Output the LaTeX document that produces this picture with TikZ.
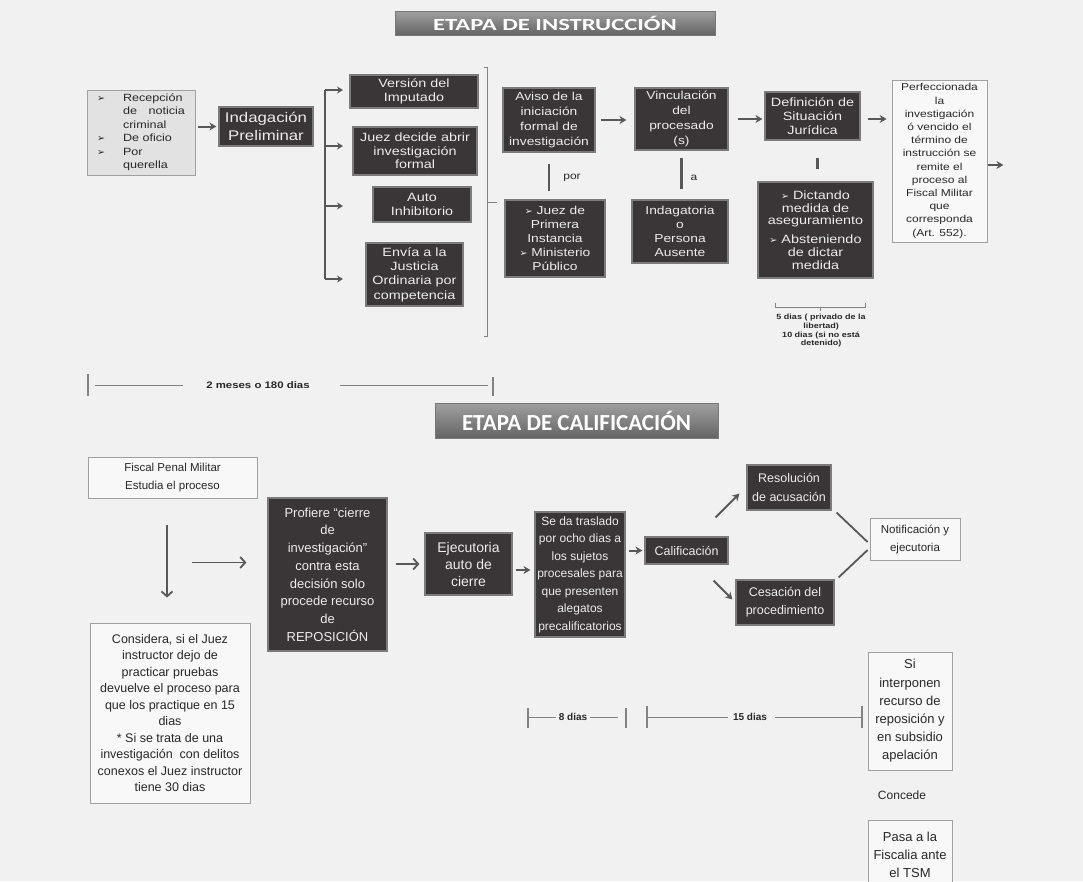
\documentclass[tikz,border=0pt]{standalone}
\usepackage{fontspec}
\setmainfont{Liberation Sans}
\newfontfamily\wf[FakeStretch=1.2]{Liberation Sans}
\newfontfamily\bnf[FakeStretch=1.45]{Carlito}
\newfontfamily\bnfb{Carlito}
\newfontfamily\sym{DejaVu Sans}
\usetikzlibrary{arrows.meta,calc}
\newcommand\fsz[2]{\fontsize{#1}{#2}\selectfont}
\newcommand\arw{{\sym\fontsize{9.5}{9.5}\selectfont ➢}}
\definecolor{bgc}{RGB}{241,241,241}
\definecolor{dkfill}{RGB}{58,53,55}
\definecolor{dkedge}{RGB}{125,122,123}
\definecolor{dktext}{RGB}{236,236,236}
\definecolor{ltfill}{RGB}{248,248,248}
\definecolor{ltedge}{RGB}{160,160,160}
\definecolor{rcfill}{RGB}{226,226,226}
\definecolor{conn}{RGB}{88,88,88}
\definecolor{tickc}{RGB}{130,130,130}
\definecolor{txt}{RGB}{40,40,40}
\begin{document}
\begin{tikzpicture}[x=1pt,y=-1pt,
  dark/.style={draw=dkedge, fill=dkfill, line width=1.2pt, text=dktext, align=center, inner xsep=2pt, inner ysep=0pt},
  light/.style={draw=ltedge, fill=ltfill, line width=0.8pt, text=txt, align=center, inner xsep=2pt, inner ysep=0pt},
  arr/.style={draw=conn, line width=2pt, -{Stealth[length=7pt,width=8pt]}},
  arrs/.style={draw=conn, line width=1.8pt, -{Stealth[length=6pt,width=7pt]}},
  arrb/.style={draw=conn, line width=1.8pt, -{Straight Barb[length=5pt,width=11pt]}},
  link/.style={draw=conn, line width=2.2pt},
  tline/.style={draw=tickc, line width=0.9pt},
  tick/.style={draw=tickc, line width=1.3pt},
  banner/.style={top color={rgb,255:red,160;green,160;blue,160}, bottom color={rgb,255:red,100;green,100;blue,100}, draw={rgb,255:red,120;green,120;blue,120}, line width=0.5pt, text=white, inner sep=0pt},
  lbl/.style={text=txt, inner sep=0pt}
]
\fill[bgc] (0,0) rectangle (1083,881);
\useasboundingbox (0,0) rectangle (1083,881);

% ---------- banners
\node[banner, minimum width=320pt, minimum height=24pt, font=\bnf\bfseries\fsz{17}{20}] (ban1) at (555,23) {ETAPA DE INSTRUCCIÓN};
\node[banner, minimum width=283pt, minimum height=35pt, font=\bnfb\bfseries\fsz{23}{26}] (ban2) at (576.5,420.5) {ETAPA DE CALIFICACIÓN};

% ---------- instruccion
\node[draw=ltedge, fill=rcfill, line width=0.8pt, text=txt, inner sep=0pt, minimum width=108pt, minimum height=85pt, font=\wf\fsz{10.5}{13.5}] (recep) at (141,132.5)
  {\begin{tabular}{@{}p{26pt}@{}p{62pt}@{}}
   \arw & Recepción\\
        & de\hfill noticia\\
        & criminal\\
   \arw & De oficio\\
   \arw & Por\\
        & querella
   \end{tabular}};
\node[dark, minimum width=94pt, minimum height=39pt, font=\wf\fsz{14}{18}] (indag) at (266,126.5) {Indagación\\Preliminar};

\node[dark, minimum width=128pt, minimum height=33pt, font=\wf\fsz{12}{13.5}] (version) at (414,91.5) {Versión del\\Imputado};
\node[dark, minimum width=124pt, minimum height=48pt, font=\wf\fsz{12}{13.5}] (juez) at (415,151) {Juez decide abrir\\investigación\\formal};
\node[dark, minimum width=98pt, minimum height=35pt, font=\wf\fsz{12}{14}] (auto) at (422,204.5) {Auto\\Inhibitorio};
\node[dark, minimum width=97pt, minimum height=63pt, font=\wf\fsz{12}{14.3}] (envia) at (414.5,274.5) {Envía a la\\Justicia\\Ordinaria por\\competencia};

\node[dark, minimum width=92pt, minimum height=64pt, font=\wf\fsz{11.5}{15}] (aviso) at (549,120) {Aviso de la\\iniciación\\formal de\\investigación};
\node[dark, minimum width=93pt, minimum height=62pt, font=\wf\fsz{11.5}{14.7}] (vinc) at (681.5,119) {Vinculación\\del\\procesado\\(s)};
\node[dark, minimum width=95pt, minimum height=48pt, font=\wf\fsz{12}{14}] (defin) at (812.5,116) {Definición de\\Situación\\Jurídica};
\node[light, minimum width=95pt, minimum height=162pt, font=\wf\fsz{10}{13.2}] (perf) at (939.5,161)
  {Perfeccionada\\la\\investigación\\ó vencido el\\término de\\instrucción se\\remite el\\proceso al\\Fiscal Militar\\que\\corresponda\\(Art. 552).};

\node[dark, minimum width=100pt, minimum height=77pt, font=\wf\fsz{11.5}{14}] (juezde) at (555,238.5) {\arw\ Juez de\\Primera\\Instancia\\\arw\ Ministerio\\Público};
\node[dark, minimum width=96pt, minimum height=63pt, font=\wf\fsz{11.5}{14}] (indagat) at (680,231.5) {Indagatoria\\o\\Persona\\Ausente};
\node[dark, minimum width=115pt, minimum height=96pt, font=\wf\fsz{12}{12.8}] (dictando) at (815.5,230) {\arw\ Dictando\\medida de\\aseguramiento\\[6pt]\arw\ Absteniendo\\de dictar\\medida};

\node[lbl, font=\wf\fsz{10}{11}] (por) at (572,178) {por};
\node[lbl, font=\wf\fsz{10}{11}] (alab) at (694,178) {a};
\node[lbl, align=center, font=\wf\bfseries\fsz{7.5}{8.7}] (plazo) at (821,331) {5 dias ( privado de la\\libertad)\\10 dias (si no está\\detenido)};

% arrows / links (top)
\draw[arr, shorten <=3pt, shorten >=2pt] (recep.east |- indag) -- (indag.west);
\coordinate (b1) at (325,90);
\coordinate (b2) at (325,146);
\coordinate (b3) at (325,206);
\coordinate (b4) at (325,279);
\draw[tick, line width=2pt, draw=conn] (b1) -- (b4);
\draw[arrs] (b1) -- ++(18,0);
\draw[arrs] (b2) -- ++(18,0);
\draw[arrs] (b3) -- ++(18,0);
\draw[arrs] (b4) -- ++(18,0);
\draw[tline] (484,67) -- (487,67) -- (487,336) -- (484,336);
\draw[tline] (487,202) -- (497,202);

\draw[arr, shorten <=5pt, shorten >=8pt] (aviso.east) -- (vinc.west |- aviso);
\draw[arr, shorten <=9pt, shorten >=2pt] (vinc.east) -- (defin.west |- vinc);
\draw[arr, shorten <=7pt, shorten >=5pt] (defin.east |- vinc) -- (perf.west |- vinc);
\draw[arr] ($(perf.east)+(1,4)$) -- ++(15,0);

\draw[link, shorten <=11pt, shorten >=8pt] (aviso.south) -- (aviso.south |- juezde.north);
\draw[link, shorten <=7pt, shorten >=10pt] (vinc.south) -- (vinc.south |- indagat.north);
\draw[link, shorten <=17pt, shorten >=12pt] ($(defin.south)+(5,0)$) -- ($(defin.south |- dictando.north)+(5,0)$);

\draw[tline] (775,303) -- (775,307) -- (865,307) -- (865,303);
\draw[tline] (820,307) -- (820,311);

% timeline 2 meses
\node[lbl, font=\wf\bfseries\fsz{9.5}{11}] (t1) at (258,385) {2 meses o 180 dias};
\draw[tick] (88,374) -- (88,396);
\draw[tline] (95,385) -- (183,385);
\draw[tline] (340,385) -- (488,385);
\draw[tick] (493,377) -- (493,396);

% ---------- calificacion
\node[light, minimum width=169pt, minimum height=41pt, font=\fsz{11.5}{18}] (fiscal) at (172.5,477.5) {Fiscal Penal Militar\\Estudia el proceso};
\node[light, minimum width=160pt, minimum height=180pt, font=\fsz{12.5}{16.5}] (considera) at (170,713)
  {Considera, si el Juez\\instructor dejo de\\practicar pruebas\\devuelve el proceso para\\que los practique en 15\\dias\\* Si se trata de una\\investigación\ \ con delitos\\conexos el Juez instructor\\tiene 30 dias};
\node[dark, minimum width=119pt, minimum height=153pt, font=\fsz{13}{17.7}] (profiere) at (327.5,574.5)
  {Profiere “cierre\\de\\investigación”\\contra esta\\decisión solo\\procede recurso\\de\\REPOSICIÓN};
\node[dark, minimum width=87pt, minimum height=62pt, font=\fsz{14}{17}] (ejec) at (468.5,564) {Ejecutoria\\auto de\\cierre};
\node[dark, minimum width=90pt, minimum height=125pt, font=\fsz{12}{17.5}] (traslado) at (580,574.5)
  {Se da traslado\\por ocho dias a\\los sujetos\\procesales para\\que presenten\\alegatos\\precalificatorios};
\node[dark, minimum width=83pt, minimum height=27pt, font=\fsz{12.5}{15}] (calif) at (686.5,550.5) {Calificación};
\node[dark, minimum width=84pt, minimum height=45pt, font=\fsz{12.5}{19}] (resol) at (789,487.5) {Resolución\\de acusación};
\node[dark, minimum width=98pt, minimum height=45pt, font=\fsz{12.5}{18}] (cesa) at (785,602.5) {Cesación del\\procedimiento};
\node[light, minimum width=90pt, minimum height=42pt, font=\fsz{11.5}{18}] (notif) at (915,539) {Notificación y\\ejecutoria};
\node[light, minimum width=84pt, minimum height=118pt, font=\fsz{13}{18.2}] (si) at (910,711) {Si\\interponen\\recurso de\\reposición y\\en subsidio\\apelación};
\node[lbl, font=\fsz{12}{14}] (concede) at (902,795) {Concede};
\node[light, minimum width=84pt, minimum height=70pt, font=\fsz{13}{18}] (pasa) at (910,855) {Pasa a la\\Fiscalia ante\\el TSM};

% arrows (bottom)
\draw[arrb] ($(fiscal.south)+(-5.5,27)$) -- ($(considera.north)+(-3,-25)$);
\draw[arrb] ($(profiere.west)+(-75,-12)$) -- ($(profiere.west)+(-21,-12)$);
\draw[arrb, shorten <=8pt, shorten >=5pt] (profiere.east |- ejec) -- (ejec.west);
\draw[arr, shorten <=3pt, shorten >=4pt] ($(ejec.east)+(0,6)$) -- ($(traslado.west |- ejec)+(0,6)$);
\draw[arr, shorten <=3pt, shorten >=2pt] (traslado.east |- calif) -- (calif.west);
\draw[arr] ($(calif.north east)+(-13,-19)$) -- ($(resol.south west)+(-7,-17)$);
\draw[arr] ($(calif.south east)+(-15,16)$) -- ($(cesa.north west)+(-3,20)$);
\draw[link, line width=1.8pt] ($(resol.south east)+(5,2)$) -- ($(notif.west)+(-2,3)$);
\draw[link, line width=1.8pt] ($(cesa.north east)+(4,-2)$) -- ($(notif.west)+(-2,11)$);

% timelines bottom
\node[lbl, font=\bfseries\fsz{10}{12}] (t8) at (573,717) {8 dias};
\node[lbl, font=\bfseries\fsz{10}{12}] (t15) at (750,717) {15 dias};
\draw[tick] (528,708) -- (528,728);
\draw[tline] (528,717) -- ($(t8.west)+(-3,0)$);
\draw[tline] ($(t8.east)+(3,0)$) -- (618,717);
\draw[tick] (626,708) -- (626,728);
\draw[tick] (647,706) -- (647,728);
\draw[tline] (647,717) -- ($(t15.west)+(-5,0)$);
\draw[tline] ($(t15.east)+(8,0)$) -- (862,717);
\draw[tick] (862,706) -- (862,728);
\end{tikzpicture}
\end{document}
